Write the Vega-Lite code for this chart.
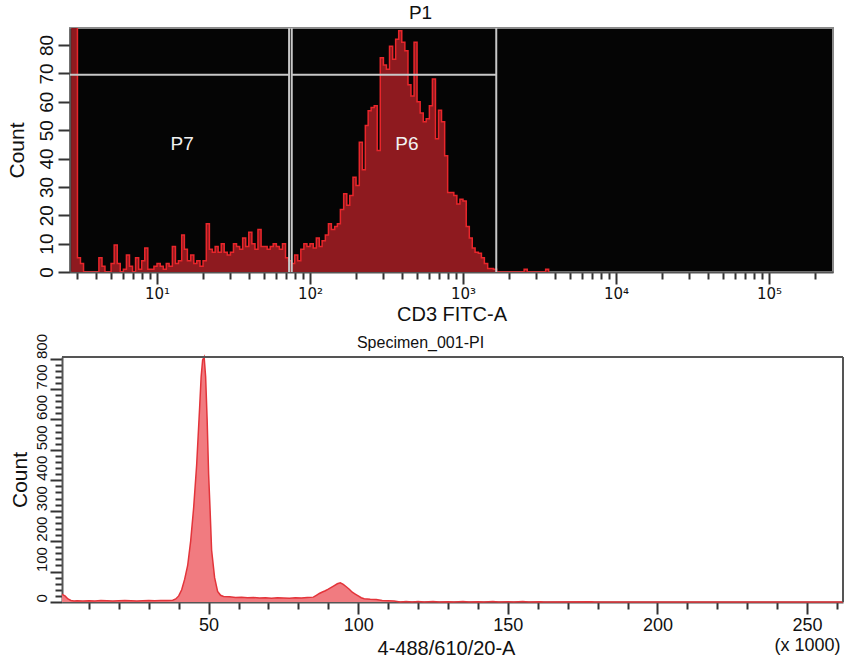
{
  "$schema": "https://vega.github.io/schema/vega-lite/v6.json",
  "background": "white",
  "padding": {"left": 5, "top": 3, "right": 2, "bottom": 0},
  "spacing": 8,
  "columns": 1,
  "align": "none",
  "config": {
    "font": "Liberation Sans",
    "title": {"font": "Liberation Sans", "fontWeight": "normal", "color": "#111"},
    "axis": {"labelFont": "Liberation Sans", "titleFont": "Liberation Sans", "labelColor": "#111", "titleColor": "#111", "titleFontWeight": "normal", "grid": false, "domainColor": "#555", "domainWidth": 2, "tickColor": "#333", "tickWidth": 2, "labelOverlap": false, "labelFlush": false, "tickCount": 200}
  },
  "concat": [
    {
      "width": 763,
      "height": 244,
      "title": {"text": "P1", "fontSize": 19, "dx": -31, "offset": 4},
      "view": {"fill": "#050505", "stroke": "#8a8a8a", "strokeWidth": 2},
      "data": {"values": [
        {"v":2.75,"c":100},{"v":2.88,"c":100},{"v":3.02,"c":5},{"v":3.16,"c":3},{"v":3.31,"c":0},{"v":3.47,"c":0},{"v":3.63,"c":0},{"v":3.8,"c":0},{"v":3.98,"c":0},{"v":4.17,"c":5},{"v":4.37,"c":2},{"v":4.57,"c":0},{"v":4.79,"c":0},{"v":5.01,"c":3},{"v":5.25,"c":9.5},{"v":5.5,"c":3},{"v":5.75,"c":0},{"v":6.03,"c":1},{"v":6.31,"c":6},{"v":6.61,"c":2},{"v":6.92,"c":0},{"v":7.24,"c":5},{"v":7.59,"c":1},{"v":7.94,"c":4},{"v":8.32,"c":8.5},{"v":8.71,"c":1},{"v":9.12,"c":1},{"v":9.55,"c":2},
        {"v":10,"c":3},{"v":10.5,"c":2},{"v":11,"c":1},{"v":11.5,"c":3},{"v":12,"c":2},{"v":12.6,"c":9},{"v":13.2,"c":3},{"v":13.8,"c":4},{"v":14.5,"c":13},{"v":15.1,"c":8},{"v":15.8,"c":4},{"v":16.6,"c":6},{"v":17.4,"c":3},{"v":18.2,"c":4},{"v":19.1,"c":2},{"v":20,"c":4},{"v":21,"c":17},{"v":22,"c":8},{"v":23,"c":7},{"v":24,"c":9},{"v":25.1,"c":7},{"v":26.3,"c":10},{"v":27.5,"c":7},{"v":28.8,"c":6},{"v":30.2,"c":7},{"v":31.6,"c":10},{"v":33.1,"c":9},{"v":34.7,"c":8},{"v":36.3,"c":12},{"v":38,"c":9},{"v":39.8,"c":14},{"v":41.7,"c":10},{"v":43.7,"c":8},{"v":45.7,"c":15},{"v":47.9,"c":9},{"v":50.1,"c":9},{"v":52.5,"c":8},{"v":55,"c":9},{"v":57.5,"c":10},{"v":60.3,"c":9},{"v":63.1,"c":8},{"v":66.1,"c":10},{"v":69.2,"c":5},{"v":72.4,"c":4},{"v":75.9,"c":3},{"v":79.4,"c":6},{"v":83.2,"c":4},{"v":87.1,"c":8},{"v":91.2,"c":10},{"v":95.5,"c":9},
        {"v":100,"c":10},{"v":105,"c":8.5},{"v":110,"c":12},{"v":115,"c":9},{"v":120,"c":11},{"v":126,"c":13},{"v":132,"c":17},{"v":138,"c":15},{"v":145,"c":16},{"v":151,"c":17},{"v":158,"c":22},{"v":166,"c":27.6},{"v":174,"c":23.5},{"v":182,"c":27},{"v":191,"c":33.4},{"v":200,"c":30.5},{"v":210,"c":45.7},{"v":220,"c":36},{"v":230,"c":51.6},{"v":240,"c":56.8},{"v":251,"c":58},{"v":263,"c":58.6},{"v":275,"c":42.8},{"v":288,"c":75.5},{"v":302,"c":73},{"v":316,"c":71.5},{"v":331,"c":79.6},{"v":347,"c":75},{"v":363,"c":82},{"v":380,"c":85},{"v":398,"c":81},{"v":417,"c":78},{"v":437,"c":66},{"v":457,"c":62},{"v":479,"c":81},{"v":501,"c":60},{"v":525,"c":56},{"v":550,"c":53},{"v":575,"c":54},{"v":603,"c":58.6},{"v":631,"c":68},{"v":661,"c":47},{"v":692,"c":57},{"v":724,"c":53},{"v":759,"c":41},{"v":794,"c":28},{"v":832,"c":28},{"v":871,"c":27},{"v":912,"c":24},{"v":955,"c":25.6},
        {"v":1000,"c":25},{"v":1050,"c":16},{"v":1100,"c":12},{"v":1150,"c":8.5},{"v":1200,"c":7},{"v":1260,"c":6.6},{"v":1320,"c":5},{"v":1380,"c":3},{"v":1450,"c":1.2},{"v":1510,"c":1.2},{"v":1580,"c":1},{"v":1660,"c":0},{"v":2510,"c":1},{"v":2630,"c":0},{"v":3470,"c":1},{"v":3630,"c":0}
      ]},
      "layer": [
        {
          "mark": {"type": "area", "interpolate": "step-after", "color": "#8e1a1f", "clip": true},
          "encoding": {
            "x": {"field": "v", "type": "quantitative", "scale": {"type": "log", "domain": [2.7, 262144], "nice": false},
              "axis": {"title": "CD3 FITC-A", "titleFontSize": 20, "titlePadding": 3, "labelFont": "DejaVu Sans", "labelFontSize": 15, "labelPadding": 2, "labelOverlap": false, "tickCount": 200,
                "values": [3,4,5,6,7,8,9,10,20,30,40,50,60,70,80,90,100,200,300,400,500,600,700,800,900,1000,2000,3000,4000,5000,6000,7000,8000,9000,10000,20000,30000,40000,50000,60000,70000,80000,90000,100000,200000],
                "labelExpr": "datum.value == 10 ? '10¹' : datum.value == 100 ? '10²' : datum.value == 1000 ? '10³' : datum.value == 10000 ? '10⁴' : datum.value == 100000 ? '10⁵' : ''",
                "tickSize": {"condition": {"test": "indexof([10,100,1000,10000,100000], datum.value) >= 0", "value": 12}, "value": 7}}},
            "y": {"field": "c", "type": "quantitative", "scale": {"domain": [0, 86], "nice": false},
              "axis": {"title": "Count", "titleFontSize": 21, "titlePadding": 10, "values": [0,10,20,30,40,50,60,70,80], "format": "d", "tickCount": 200, "labelAngle": -90, "labelFontSize": 19, "tickSize": 12, "labelPadding": 2, "labelOverlap": false}}
          }
        },
        {
          "mark": {"type": "line", "interpolate": "step-after", "color": "#e8262b", "strokeWidth": 1.5, "clip": true},
          "encoding": {
            "x": {"field": "v", "type": "quantitative"},
            "y": {"field": "c", "type": "quantitative"}
          }
        },
        {
          "data": {"values": [{"g": 73}, {"g": 76}, {"g": 1650}]},
          "mark": {"type": "rule", "color": "#c8c8c8", "strokeWidth": 2},
          "encoding": {"x": {"field": "g", "type": "quantitative"}}
        },
        {
          "data": {"values": [{"a": 2.7, "b": 73, "h": 69.5}, {"a": 76, "b": 1650, "h": 69.5}]},
          "mark": {"type": "rule", "color": "#c8c8c8", "strokeWidth": 2},
          "encoding": {
            "x": {"field": "a", "type": "quantitative"},
            "x2": {"field": "b"},
            "y": {"field": "h", "type": "quantitative"}
          }
        },
        {
          "data": {"values": [{"t": "P7", "px": 14.6, "py": 45}, {"t": "P6", "px": 430, "py": 45}]},
          "mark": {"type": "text", "color": "#f2f2f2", "fontSize": 19, "font": "Liberation Sans"},
          "encoding": {
            "x": {"field": "px", "type": "quantitative"},
            "y": {"field": "py", "type": "quantitative"},
            "text": {"field": "t"}
          }
        }
      ]
    },
    {
      "width": 773,
      "height": 245,
      "title": {"text": "Specimen_001-PI", "fontSize": 16, "dx": -36, "offset": -18},
      "view": {"fill": null, "stroke": null},
      "data": {"values": [
        {"k":1,"n":25},{"k":2,"n":20},{"k":3,"n":10},{"k":4,"n":5},{"k":5,"n":3},{"k":6,"n":4},{"k":8,"n":3},{"k":10,"n":4},{"k":12,"n":3},{"k":14,"n":5},{"k":16,"n":4},{"k":18,"n":3},{"k":20,"n":4},{"k":22,"n":5},{"k":24,"n":4},{"k":26,"n":3},{"k":28,"n":4},{"k":30,"n":5},{"k":32,"n":4},{"k":34,"n":5},{"k":36,"n":5},{"k":38,"n":6},{"k":39,"n":10},{"k":40,"n":20},{"k":41,"n":40},{"k":42,"n":75},{"k":43,"n":120},{"k":44,"n":200},{"k":45,"n":310},{"k":46,"n":450},{"k":47,"n":640},{"k":47.5,"n":740},{"k":48,"n":795},{"k":48.5,"n":805},{"k":49,"n":740},{"k":49.5,"n":600},{"k":50,"n":420},{"k":50.5,"n":300},{"k":51,"n":170},{"k":52,"n":80},{"k":53,"n":35},{"k":54,"n":22},{"k":55,"n":18},{"k":57,"n":17},{"k":59,"n":15},{"k":61,"n":16},{"k":63,"n":14},{"k":65,"n":15},{"k":67,"n":13},{"k":69,"n":14},{"k":71,"n":12},{"k":73,"n":14},{"k":75,"n":13},{"k":77,"n":12},{"k":79,"n":14},{"k":81,"n":13},{"k":83,"n":15},{"k":85,"n":16},{"k":86,"n":22},{"k":87,"n":28},{"k":88,"n":33},{"k":89,"n":37},{"k":90,"n":42},{"k":91,"n":48},{"k":92,"n":54},{"k":93,"n":60},{"k":94,"n":63},{"k":95,"n":58},{"k":96,"n":50},{"k":97,"n":42},{"k":98,"n":32},{"k":99,"n":26},{"k":100,"n":20},{"k":101,"n":14},{"k":102,"n":11},{"k":104,"n":9},{"k":106,"n":8},{"k":108,"n":5},{"k":110,"n":4},{"k":112,"n":3},{"k":114,"n":0},{"k":116,"n":2},{"k":118,"n":0},{"k":120,"n":2},{"k":122,"n":0},{"k":125,"n":2},{"k":127,"n":0},{"k":130,"n":1},{"k":132,"n":0},{"k":135,"n":2},{"k":137,"n":0},{"k":140,"n":1},{"k":142,"n":0},{"k":145,"n":2},{"k":147,"n":0},{"k":150,"n":1},{"k":152,"n":0},{"k":155,"n":2},{"k":157,"n":0},{"k":161,"n":1},{"k":162,"n":0},{"k":178,"n":1},{"k":179,"n":0},{"k":262,"n":0}
      ]},
      "layer": [
        {
          "mark": {"type": "area", "color": "#f17b80"},
          "encoding": {
            "x": {"field": "k", "type": "quantitative", "scale": {"domain": [1, 262], "nice": false, "range": [-8, 773]},
              "axis": {"title": "4-488/610/20-A", "titleFontSize": 20, "titleX": 376, "titleY": 52, "titleBaseline": "alphabetic", "labelFontSize": 18, "labelPadding": 2, "labelLineHeight": 20, "labelOverlap": false, "tickCount": 200, "format": "d",
                "values": [10,20,30,40,50,60,70,80,90,100,110,120,130,140,150,160,170,180,190,200,210,220,230,240,250,260],
                "labelExpr": "datum.value == 250 ? ['250', '(x 1000)'] : datum.value % 50 == 0 ? datum.label : ''",
                "tickSize": {"condition": {"test": "datum.value % 50 == 0", "value": 12}, "value": 7}}},
            "y": {"field": "n", "type": "quantitative", "scale": {"domain": [0, 805], "nice": false},
              "axis": {"title": "Count", "titleFontSize": 21, "titlePadding": 4, "offset": 8, "labelAngle": -90, "labelAlign": "left", "labelFont": "Liberation Sans Narrow, Liberation Sans", "labelFontSize": 15, "labelPadding": 1, "labelOverlap": false, "tickCount": 200, "format": "d",
                "values": [0,20,40,60,80,100,120,140,160,180,200,220,240,260,280,300,320,340,360,380,400,420,440,460,480,500,520,540,560,580,600,620,640,660,680,700,720,740,760,780,800],
                "labelExpr": "datum.value % 100 == 0 ? datum.label : ''",
                "tickSize": {"condition": {"test": "datum.value % 100 == 0", "value": 12}, "value": 7}}}
          }
        },
        {
          "mark": {"type": "line", "color": "#e3343a", "strokeWidth": 1.5},
          "encoding": {
            "x": {"field": "k", "type": "quantitative"},
            "y": {"field": "n", "type": "quantitative"}
          }
        },
        {
          "data": {"values": [{"fa": 1, "fb": 262, "fy": 805}]},
          "mark": {"type": "rule", "color": "#555", "strokeWidth": 2},
          "encoding": {
            "x": {"field": "fa", "type": "quantitative"},
            "x2": {"field": "fb"},
            "y": {"field": "fy", "type": "quantitative"}
          }
        },
        {
          "data": {"values": [{"fx": 262}]},
          "mark": {"type": "rule", "color": "#555", "strokeWidth": 2},
          "encoding": {"x": {"field": "fx", "type": "quantitative"}}
        }
      ]
    }
  ]
}
